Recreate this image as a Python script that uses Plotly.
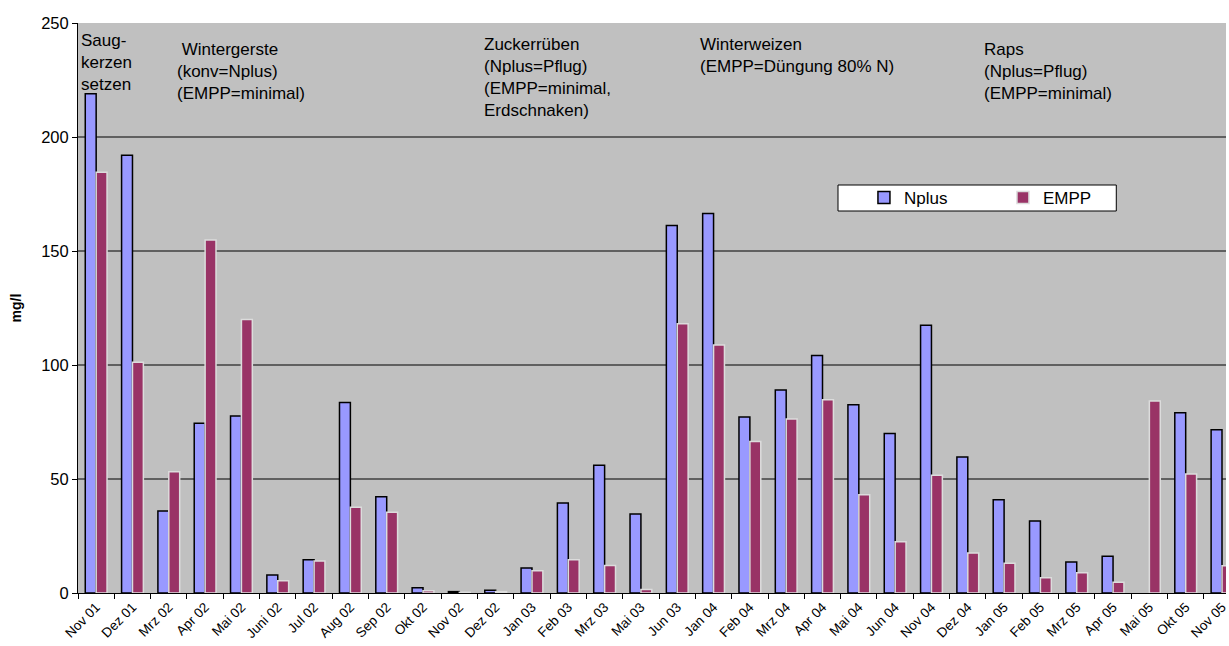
import plotly.graph_objects as go

# Sampling dates (month labels)
months = [
    "Nov 01", "Dez 01", "Mrz 02", "Apr 02", "Mai 02", "Juni 02", "Jul 02", "Aug 02",
    "Sep 02", "Okt 02", "Nov 02", "Dez 02", "Jan 03", "Feb 03", "Mrz 03", "Mai 03",
    "Jun 03", "Jan 04", "Feb 04", "Mrz 04", "Apr 04", "Mai 04", "Jun 04", "Nov 04",
    "Dez 04", "Jan 05", "Feb 05", "Mrz 05", "Apr 05", "Mai 05", "Okt 05", "Nov 05",
]

# Nitrate concentration in seepage water, mg/l
nplus = [
    219, 192, 36, 74.4, 77.6, 7.9, 14.6, 83.6,
    42.2, 2.3, 0.6, 1.2, 11.0, 39.5, 56.0, 34.6,
    161.2, 166.5, 77.2, 89.0, 104.2, 82.6, 70.0, 117.4,
    59.6, 40.9, 31.6, 13.6, 16.1, None, 79.1, 71.6,
]
empp = [
    184.5, 101.2, 53.2, 154.8, 120.0, 5.4, 14.0, 37.6,
    35.4, 1.0, 0.3, 0.6, 9.8, 14.6, 12.1, 1.5,
    118.1, 108.8, 66.4, 76.3, 84.8, 43.1, 22.5, 51.6,
    17.5, 13.0, 6.7, 8.9, 4.7, 84.2, 52.2, 12.0,
]

y_ticks = [0, 50, 100, 150, 200, 250]

# Crop / management notes shown across the top of the plot
crop_notes = [
    "Saug-<br>kerzen<br>setzen",
    "\u00a0Wintergerste<br>(konv=Nplus)<br>(EMPP=minimal)",
    "Zuckerrüben<br>(Nplus=Pflug)<br>(EMPP=minimal,<br>Erdschnaken)",
    "Winterweizen<br>(EMPP=Düngung 80% N)",
    "Raps<br>(Nplus=Pflug)<br>(EMPP=minimal)",
]
note_pos = [(79, 29), (175, 38), (483, 33), (700, 33), (984, 38)]

W, H = 1229, 646
L, R, T, B = 78, 0, 23, 53
FONT = "Liberation Sans, Arial, sans-serif"


def px_x(px):
    return (px - L) / (W - L - R)


def px_y(py):
    return (H - B - py) / (H - T - B)


fig = go.Figure()
fig.add_trace(go.Bar(
    x=months, y=nplus, name="Nplus",
    marker=dict(color="#9999FF", line=dict(color="#000000", width=1.5)),
))
fig.add_trace(go.Bar(
    x=months, y=empp, name="EMPP",
    marker=dict(color="#993366", line=dict(color="#DCDCDC", width=1.5)),
))

# horizontal grid lines (none at the top edge)
shapes = [
    dict(type="line", xref="paper", yref="y", x0=0, x1=1, y0=v, y1=v,
         line=dict(color="#000000", width=1), layer="below")
    for v in y_ticks[1:-1]
]
# legend frame
shapes.append(dict(type="rect", xref="paper", yref="paper",
                   x0=px_x(840), x1=px_x(1119), y0=px_y(211), y1=px_y(185),
                   fillcolor="#FFFFFF", line=dict(color="#000000", width=1),
                   layer="above"))

annotations = [
    dict(text=t, xref="paper", yref="paper", x=px_x(x), y=px_y(y),
         xanchor="left", yanchor="top", align="left", showarrow=False,
         font=dict(family=FONT, size=17, color="#000000"))
    for t, (x, y) in zip(crop_notes, note_pos)
]

fig.update_layout(
    width=W, height=H,
    margin=dict(l=L, r=R, t=T, b=B, pad=0),
    paper_bgcolor="#FFFFFF",
    plot_bgcolor="#C0C0C0",
    barmode="group", bargap=0.4, bargroupgap=0,
    font=dict(family=FONT, color="#000000"),
    shapes=shapes,
    annotations=annotations,
    showlegend=True,
    legend=dict(orientation="h", x=px_x(866), y=px_y(198),
                xanchor="left", yanchor="middle",
                bgcolor="rgba(0,0,0,0)", borderwidth=0,
                entrywidth=94, entrywidthmode="pixels",
                font=dict(family=FONT, size=17, color="#000000")),
    xaxis=dict(
        type="category", range=[-0.5, 31.11],
        showline=True, linecolor="#000000", linewidth=1,
        ticks="outside", tickson="boundaries", ticklen=5, tickcolor="#000000",
        tickangle=-45, tickfont=dict(family=FONT, size=13.5, color="#000000"),
        showgrid=False, fixedrange=True,
    ),
    yaxis=dict(
        range=[0, 250], tickvals=y_ticks,
        showline=True, linecolor="#000000", linewidth=1,
        ticks="outside", ticklen=5, tickcolor="#000000",
        tickfont=dict(family=FONT, size=16.5, color="#000000"),
        showgrid=False, zeroline=False,
        title=dict(text="<b>mg/l</b>", standoff=16,
                   font=dict(family=FONT, size=14, color="#000000")),
    ),
)

fig.write_html("out.html")
